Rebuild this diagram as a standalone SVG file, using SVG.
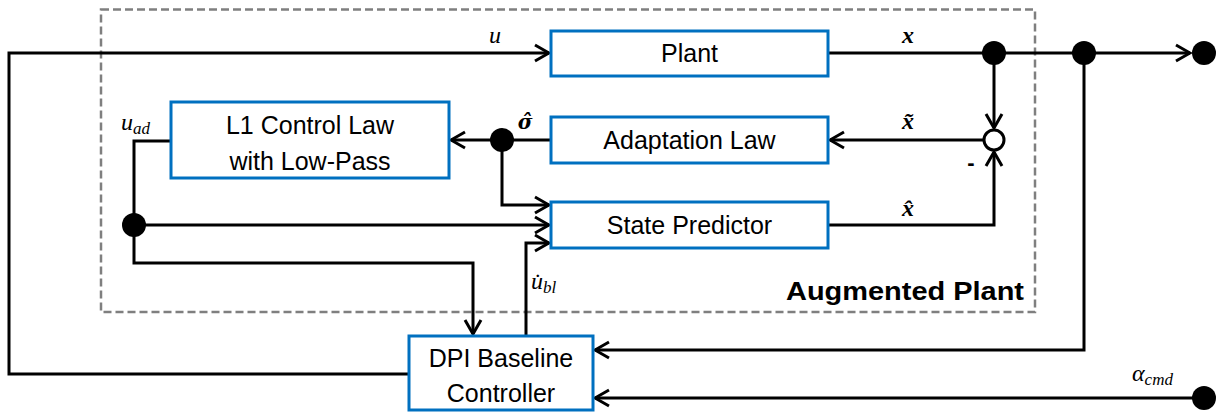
<svg xmlns="http://www.w3.org/2000/svg" width="1217" height="412" viewBox="0 0 1217 412">
<style>
.box{fill:#fff;stroke:#0070C0;stroke-width:3}
.lbl{font-family:"Liberation Sans",Arial,sans-serif;font-size:25px;fill:#000;text-anchor:middle}
.wire{fill:none;stroke:#000;stroke-width:3}
.dot{fill:#000}
.m{font-family:"Liberation Serif","DejaVu Serif",serif;font-style:italic;font-size:24px;fill:#000}
.mb{font-family:"Liberation Serif","DejaVu Serif",serif;font-style:italic;font-weight:bold;font-size:24px;fill:#000;text-anchor:middle}
.sg{font-family:"DejaVu Serif",serif;font-style:italic;font-weight:bold;font-size:20px;fill:#000;text-anchor:middle}
.sub{font-size:17px}
</style>
<defs>
<marker id="arr" viewBox="-16 -10 18 20" refX="0" refY="0" markerWidth="18" markerHeight="20" markerUnits="userSpaceOnUse" orient="auto">
<path d="M-14,-8 L0,0 L-14,8" fill="none" stroke="#000" stroke-width="3" stroke-linejoin="miter"/>
</marker>
</defs>
<rect fill="#fff" x="0" y="0" width="1217" height="412"/>
<g id="augmented-plant">
<rect x="101" y="9.5" width="934" height="302.5" fill="none" stroke="#7f7f7f" stroke-width="2.5" stroke-dasharray="8,4"/>
<text x="1024" y="300" font-family="'Liberation Sans',Arial,sans-serif" font-weight="bold" font-size="26" text-anchor="end" textLength="238" lengthAdjust="spacingAndGlyphs">Augmented Plant</text>
</g>
<g id="connectors">
<path class="wire" d="M409,374 H9 V53 H549" marker-end="url(#arr)"/>
<path class="wire" d="M828,53 H1190" marker-end="url(#arr)"/>
<path class="wire" d="M994,53 V128" marker-end="url(#arr)"/>
<path class="wire" d="M828,225 H994 V152" marker-end="url(#arr)"/>
<path class="wire" d="M984,140 H830" marker-end="url(#arr)"/>
<path class="wire" d="M551,140 H451" marker-end="url(#arr)"/>
<path class="wire" d="M502,140 V205 H549" marker-end="url(#arr)"/>
<path class="wire" d="M171,141 H134 V263 H473 V334" marker-end="url(#arr)"/>
<path class="wire" d="M134,225 H549" marker-end="url(#arr)"/>
<path class="wire" d="M526,336 V243 H549" marker-end="url(#arr)"/>
<path class="wire" d="M1084,53 V350 H595" marker-end="url(#arr)"/>
<path class="wire" d="M1204,398 H595" marker-end="url(#arr)"/>
<circle class="dot" cx="994" cy="53" r="12"/>
<circle class="dot" cx="1084" cy="53" r="12"/>
<circle class="dot" cx="1204" cy="53" r="12"/>
<circle class="dot" cx="502" cy="140" r="12"/>
<circle class="dot" cx="134" cy="225" r="12"/>
<circle class="dot" cx="1204" cy="398" r="12"/>
</g>
<g id="sum">
<circle cx="994" cy="140" r="10" fill="#fff" stroke="#000" stroke-width="3"/>
<text x="971" y="170" font-family="'Liberation Sans',Arial,sans-serif" font-weight="bold" font-size="22" text-anchor="middle">-</text>
</g>
<g id="plant">
<rect class="box" x="551" y="31" width="277" height="45"/>
<text class="lbl" x="689.5" y="62">Plant</text>
</g>
<g id="adaptation-law">
<rect class="box" x="551" y="117" width="277" height="46"/>
<text class="lbl" x="689.5" y="149">Adaptation Law</text>
</g>
<g id="state-predictor">
<rect class="box" x="551" y="202" width="277" height="46"/>
<text class="lbl" x="689.5" y="234">State Predictor</text>
</g>
<g id="l1-control-law">
<rect class="box" x="171" y="102" width="278" height="76"/>
<text class="lbl" x="310" y="134">L1 Control Law</text>
<text class="lbl" x="310" y="170">with Low-Pass</text>
</g>
<g id="dpi-baseline">
<rect class="box" x="409" y="336" width="184" height="74"/>
<text class="lbl" x="501" y="367">DPI Baseline</text>
<text class="lbl" x="501" y="402">Controller</text>
</g>
<g id="labels">
<text class="m" x="489" y="43">u</text>
<text class="mb" x="908" y="43">x</text>
<text class="mb" x="908" y="129">x&#771;</text>
<text class="mb" x="908" y="216">x&#770;</text>
<text class="sg" x="525" y="129">σ&#770;</text>
<text class="m" x="121" y="130">u<tspan class="sub" dy="4">ad</tspan></text>
<text class="m" x="531" y="289">u&#775;<tspan class="sub" dy="4">bl</tspan></text>
<text class="m" x="1132" y="381">α<tspan class="sub" dy="4">cmd</tspan></text>
</g>
</svg>
